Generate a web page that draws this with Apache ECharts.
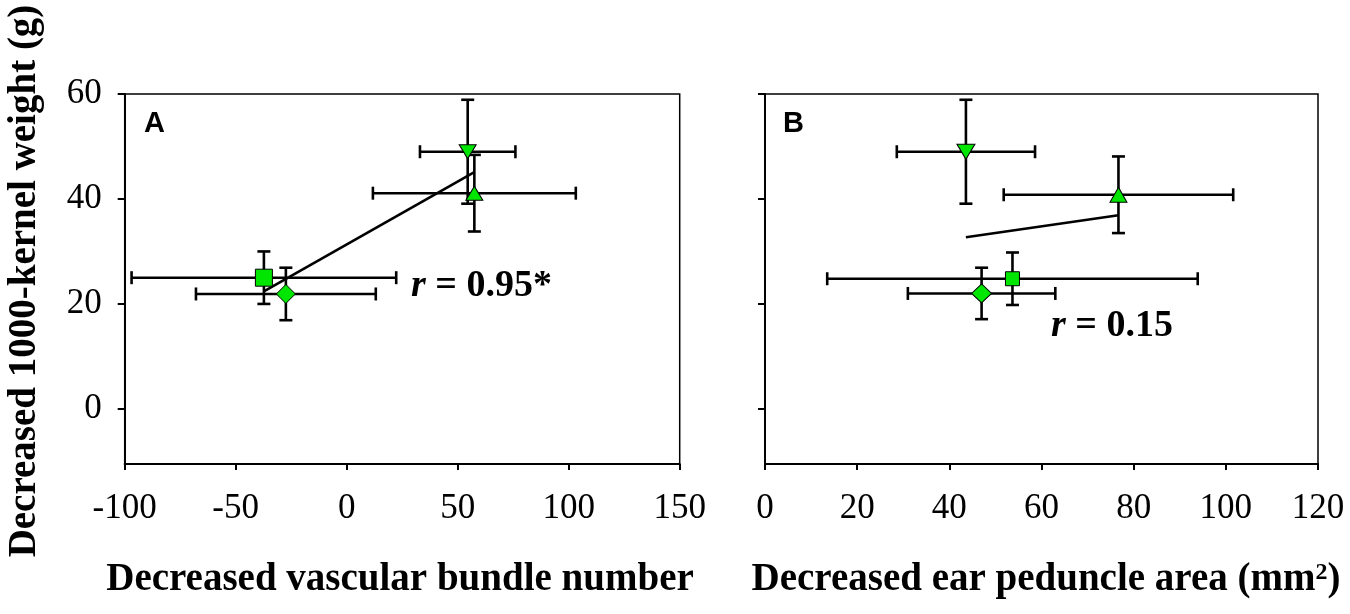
<!DOCTYPE html>
<html>
<head>
<meta charset="utf-8">
<script src="https://cdn.jsdelivr.net/npm/echarts@6/dist/echarts.min.js"></script>
<style>
  html, body { margin: 0; padding: 0; background: #fff; }
  #chart { width: 1350px; height: 614px; }
</style>
</head>
<body>
<div id="chart"></div>
<script>
// ---------- data ----------
const pointNames = ['Square', 'Diamond', 'Up triangle', 'Down triangle'];

// Panel A: decreased vascular bundle number vs decreased 1000-kernel weight
const aX    = [-37.3, -27.4, 57.5, 54.5];
const aY    = [25.0, 21.9, 41.1, 49.0];
const aXErr = [59.6, 40.5, 45.7, 21.5];
const aYErr = [5.0, 5.0, 7.3, 9.9];
const aTrend = [[-37.3, 22.4], [57.5, 45.1]];

// Panel B: decreased ear peduncle area vs decreased 1000-kernel weight
const bX    = [53.7, 47.0, 76.7, 43.6];
const bY    = [24.8, 22.0, 40.8, 49.0];
const bXErr = [40.2, 16.0, 24.9, 15.0];
const bYErr = [5.0, 4.9, 7.3, 9.9];
const bTrend = [[43.6, 32.7], [76.7, 36.9]];

const yTicks = [0, 20, 40, 60];

// ---------- styles ----------
const SERIF = "'Liberation Serif', 'Times New Roman', serif";
const SANS = "'Liberation Sans', Arial, sans-serif";
const GREEN = '#00e600';
const symbols = ['rect', 'diamond', 'triangle', 'triangle'];
const rotations = [0, 0, 0, 180];
const sizesA = [17, 19, [17, 14], [17, 14]];
const sizesB = [14, [20, 19], [17, 15], [18, 15]];

function markerData(xs, ys, sizes) {
  return xs.map((x, i) => ({
    name: pointNames[i],
    value: [x, ys[i]],
    symbol: symbols[i],
    symbolRotate: rotations[i],
    symbolSize: sizes[i]
  }));
}
function errData(xs, ys, ex, ey) {
  return xs.map((x, i) => [x, ys[i], ex[i], ey[i]]);
}
function errRender(params, api) {
  const x = api.value(0), y = api.value(1), ex = api.value(2), ey = api.value(3);
  const pL = api.coord([x - ex, y]), pR = api.coord([x + ex, y]);
  const pT = api.coord([x, y + ey]), pB = api.coord([x, y - ey]);
  const cap = 6.5;
  const st = { stroke: '#000', lineWidth: 2.6 };
  const ln = (x1, y1, x2, y2) => ({ type: 'line', shape: { x1, y1, x2, y2 }, style: st });
  return {
    type: 'group',
    children: [
      ln(pL[0], pL[1], pR[0], pR[1]),
      ln(pL[0], pL[1] - cap, pL[0], pL[1] + cap),
      ln(pR[0], pR[1] - cap, pR[0], pR[1] + cap),
      ln(pT[0], pT[1], pB[0], pB[1]),
      ln(pT[0] - cap, pT[1], pT[0] + cap, pT[1]),
      ln(pB[0] - cap, pB[1], pB[0] + cap, pB[1])
    ]
  };
}

const axisLineStyle = { show: true, onZero: false, lineStyle: { color: '#000', width: 2 } };
const tickLabelStyle = { color: '#000', fontFamily: SERIF, fontSize: 35 };

function xAxisDef(gridIndex, min, max, interval) {
  return {
    type: 'value', gridIndex, min, max, interval,
    axisLine: axisLineStyle,
    axisTick: { show: true, inside: false, length: 6, lineStyle: { color: '#000', width: 2 } },
    axisLabel: Object.assign({ margin: 27 }, tickLabelStyle),
    splitLine: { show: false }
  };
}
function yAxisDef(gridIndex, showLabels) {
  return {
    type: 'value', gridIndex, min: -10.5, max: 60,
    axisLine: axisLineStyle,
    axisTick: { show: true, inside: false, length: 7, customValues: yTicks, lineStyle: { color: '#000', width: 2 } },
    axisLabel: Object.assign({ show: showLabels, margin: 23, customValues: yTicks }, tickLabelStyle),
    splitLine: { show: false }
  };
}

const option = {
  backgroundColor: '#fff',
  animation: false,
  grid: [
    { left: 124.7, top: 94, width: 555, height: 370, show: true, borderColor: '#000', borderWidth: 1.5, backgroundColor: 'transparent' },
    { left: 765, top: 94, width: 553, height: 370, show: true, borderColor: '#000', borderWidth: 1.5, backgroundColor: 'transparent' }
  ],
  xAxis: [xAxisDef(0, -100, 150, 50), xAxisDef(1, 0, 120, 20)],
  yAxis: [yAxisDef(0, true), yAxisDef(1, false)],
  series: [
    { type: 'line', xAxisIndex: 0, yAxisIndex: 0, data: aTrend, symbol: 'none', z: 1,
      lineStyle: { color: '#000', width: 2.6 } },
    { type: 'line', xAxisIndex: 1, yAxisIndex: 1, data: bTrend, symbol: 'none', z: 1,
      lineStyle: { color: '#000', width: 2.6 } },
    { type: 'custom', xAxisIndex: 0, yAxisIndex: 0, renderItem: errRender, z: 2,
      encode: { x: 0, y: 1 }, data: errData(aX, aY, aXErr, aYErr) },
    { type: 'custom', xAxisIndex: 1, yAxisIndex: 1, renderItem: errRender, z: 2,
      encode: { x: 0, y: 1 }, data: errData(bX, bY, bXErr, bYErr) },
    { type: 'scatter', xAxisIndex: 0, yAxisIndex: 0, z: 3, data: markerData(aX, aY, sizesA),
      itemStyle: { color: GREEN, borderColor: '#000', borderWidth: 1, opacity: 1 } },
    { type: 'scatter', xAxisIndex: 1, yAxisIndex: 1, z: 3, data: markerData(bX, bY, sizesB),
      itemStyle: { color: GREEN, borderColor: '#000', borderWidth: 1, opacity: 1 } }
  ],
  graphic: [
    { type: 'text', x: 25, y: 281, rotation: Math.PI / 2,
      style: { text: 'Decreased 1000-kernel weight (g)', fill: '#000', font: 'bold 39px ' + SERIF,
               align: 'center', verticalAlign: 'middle' } },
    { type: 'text', x: 400, y: 580,
      style: { text: 'Decreased vascular bundle number', fill: '#000', font: 'bold 39px ' + SERIF,
               align: 'center', verticalAlign: 'middle' } },
    { type: 'text', x: 1046, y: 580,
      style: { text: 'Decreased ear peduncle area (mm{sup|2})', fill: '#000',
               fontFamily: SERIF, fontWeight: 'bold', fontSize: 39, lineHeight: 39,
               rich: { sup: { fontFamily: SERIF, fontWeight: 'bold', fontSize: 24, lineHeight: 12, verticalAlign: 'top', fill: '#000' } },
               align: 'center', verticalAlign: 'middle' } },
    { type: 'text', x: 144, y: 124,
      style: { text: 'A', fill: '#000', font: 'bold 29px ' + SANS, align: 'left', verticalAlign: 'middle' } },
    { type: 'text', x: 783, y: 124,
      style: { text: 'B', fill: '#000', font: 'bold 29px ' + SANS, align: 'left', verticalAlign: 'middle' } },
    { type: 'text', x: 411, y: 286, z: 10,
      style: { text: '{i|r} = 0.95*', fill: '#000', fontFamily: SERIF, fontWeight: 'bold', fontSize: 38,
               rich: { i: { fontFamily: SERIF, fontWeight: 'bold', fontStyle: 'italic', fontSize: 38, fill: '#000' } },
               align: 'left', verticalAlign: 'middle' } },
    { type: 'text', x: 1051, y: 326, z: 10,
      style: { text: '{i|r} = 0.15', fill: '#000', fontFamily: SERIF, fontWeight: 'bold', fontSize: 38,
               rich: { i: { fontFamily: SERIF, fontWeight: 'bold', fontStyle: 'italic', fontSize: 38, fill: '#000' } },
               align: 'left', verticalAlign: 'middle' } }
  ]
};

const chart = echarts.init(document.getElementById('chart'), null, { renderer: 'canvas' });
chart.setOption(option);
</script>
</body>
</html>
